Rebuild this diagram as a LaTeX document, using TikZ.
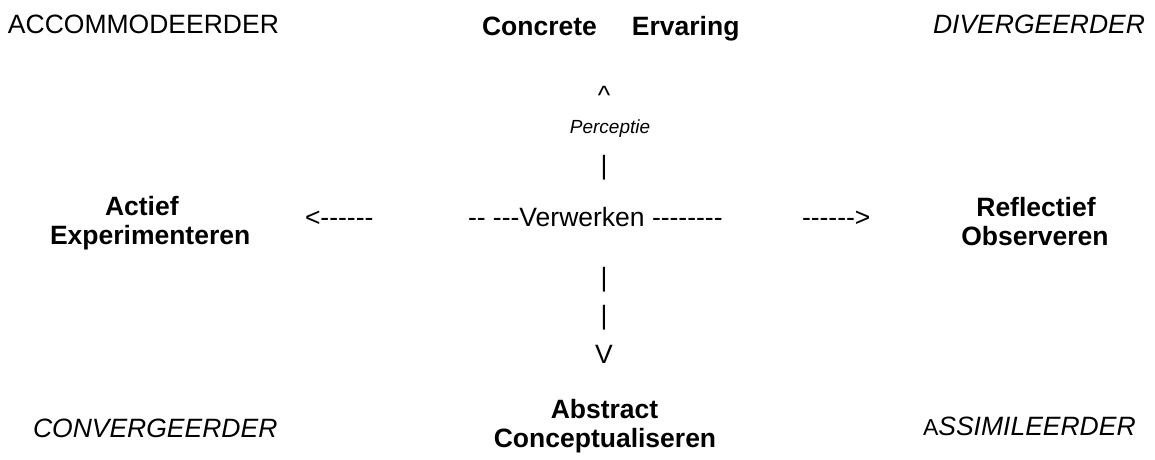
\documentclass[tikz,border=0pt]{standalone}
\usepackage{fontspec}
\setmainfont{Liberation Sans}
\begin{document}
\begin{tikzpicture}[x=1pt,y=-1pt,
  lab/.style={inner sep=0pt, outer sep=0pt, font=\fontsize{26.5}{29}\selectfont},
  blab/.style={lab, font=\fontsize{26.5}{29}\selectfont\bfseries},
  ilab/.style={lab, font=\fontsize{26.5}{29}\selectfont\itshape},
  slab/.style={inner sep=0pt, outer sep=0pt, font=\fontsize{19}{22}\selectfont\itshape}]
\fill[white] (0,0) rectangle (1155,459);
\useasboundingbox (0,0) rectangle (1155,459);
% corner styles
\node[lab, anchor=base west] (acc) at (8,33) {ACCOMMODEERDER};
\node[ilab, anchor=base west] (div) at (933,33) {DIVERGEERDER};
\node[ilab, anchor=base west] (conv) at (33,437) {CONVERGEERDER};
\node[ilab, anchor=base west] (assim) at (923,435) {{\upshape\fontsize{23}{29}\selectfont A}SSIMILEERDER};
% poles
\node[blab, anchor=base west] (ce) at (482,35) {\makebox[150pt][l]{Concrete}Ervaring};
\node[blab, anchor=base west] (act1) at (105,215) {Actief};
\node[blab, anchor=base west] (act2) at (50,244) {Experimenteren};
\node[blab, anchor=base] (ref1) at (1036,216) {Reflectief};
\node[blab, anchor=base] (ref2) at (1035,245) {Observeren};
\node[blab, anchor=base] (abs1) at (604.5,418) {Abstract};
\node[blab, anchor=base] (abs2) at (605,447) {Conceptualiseren};
% central axis (typed characters)
\node[lab, anchor=base] (up) at (604,104) {\^{}};
\node[slab, anchor=base] (perc) at (610,133) {Perceptie};
\node[lab, anchor=base] (bar1) at (604,174) {|};
\node[lab, anchor=base west] (left) at (305,226) {<-{}-{}-{}-{}-{}-};
\node[lab, anchor=base west] (verw) at (468,226) {-{}- -{}-{}-Verwerken -{}-{}-{}-{}-{}-{}-{}-};
\node[lab, anchor=base west] (right) at (802,226) {-{}-{}-{}-{}-{}->};
\node[lab, anchor=base] (bar2) at (604,286.5) {|};
\node[lab, anchor=base] (bar3) at (604,324.5) {|};
\node[lab, anchor=base] (down) at (604,363) {V};
\end{tikzpicture}
\end{document}
